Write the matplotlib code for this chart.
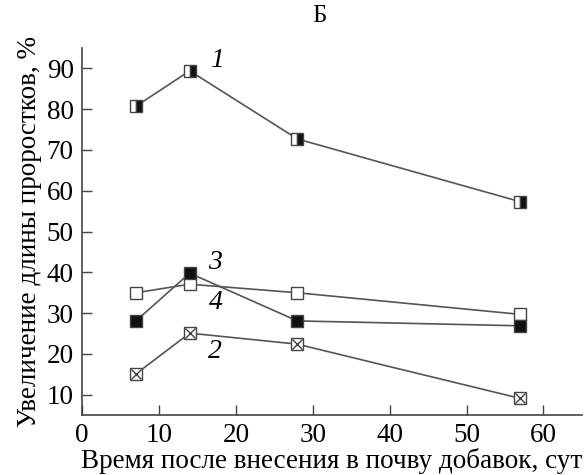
import matplotlib
matplotlib.use('Agg')
import matplotlib.pyplot as plt

# days after adding to soil
days = [7, 14, 28, 57]

# increase of sprout length, %
series_1 = [80.7, 89.4, 72.7, 57.3]
series_2 = [15.1, 25.1, 22.4, 9.1]
series_3 = [35.0, 37.1, 35.0, 29.7]
series_4 = [28.1, 39.8, 28.1, 26.9]

labels = ['1', '2', '3', '4']
label_x = [17.6, 17.3, 17.3, 17.4]
label_y = [91.9, 20.5, 42.5, 32.7]

plt.rcParams['font.family'] = ['Liberation Serif', 'DejaVu Serif']
plt.rcParams['font.size'] = 19.5

fig = plt.figure(figsize=(5.86, 4.75), dpi=100)
ax = fig.add_axes([0.140, 0.126, 0.853, 0.773])

line_col = '#555555'
edge_col = '#444444'
ms = 9

ax.plot(days, series_1, color=line_col, lw=1.2, marker='s', ms=ms,
        markerfacecolor='white', markerfacecoloralt='#111111', fillstyle='left',
        markeredgecolor=edge_col, markeredgewidth=1.0)
ax.plot(days, series_2, color=line_col, lw=1.2, marker='s', ms=ms,
        markerfacecolor='white', markeredgecolor=edge_col, markeredgewidth=1.0)
ax.plot(days, series_2, ls='none', marker='x', ms=ms * 0.75,
        markeredgecolor=edge_col, markeredgewidth=1.0)
ax.plot(days, series_3, color=line_col, lw=1.2, marker='s', ms=ms,
        markerfacecolor='white', markeredgecolor=edge_col, markeredgewidth=1.0)
ax.plot(days, series_4, color=line_col, lw=1.2, marker='s', ms=ms,
        markerfacecolor='#111111', markeredgecolor=edge_col, markeredgewidth=1.0)

for t, x, y in zip(labels, label_x, label_y):
    ax.text(x, y, t, fontsize=20, style='italic', ha='center', va='center')

ax.set_xlim(0, 65)
ax.set_ylim(5, 95)
ax.set_xticks(range(0, 61, 10))
ax.set_yticks(range(10, 91, 10))
ax.tick_params(direction='in', length=7, width=1.0, color='#444444', pad=6)
for s in ['top', 'right']:
    ax.spines[s].set_visible(False)
for s in ['left', 'bottom']:
    ax.spines[s].set_color('#444444')
    ax.spines[s].set_linewidth(1.2)

ax.set_xlabel('Время после внесения в почву добавок, сут', labelpad=0)
ax.set_ylabel('Увеличение длины проростков, %', labelpad=3)
fig.text(0.545, 0.967, 'Б', ha='center', va='center', fontsize=18)

fig.savefig('out.png', dpi=100)
